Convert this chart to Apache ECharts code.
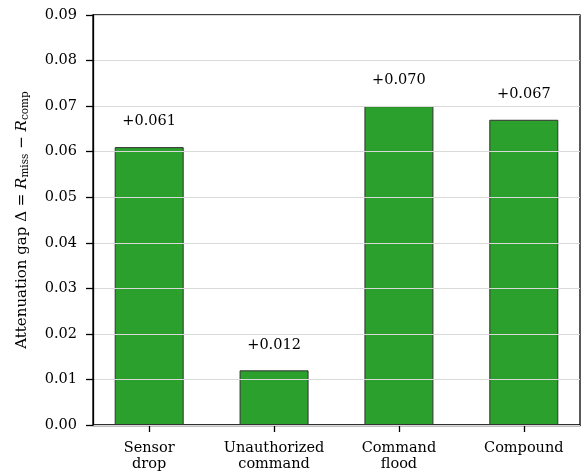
<!DOCTYPE html>
<html>
<head>
<meta charset="utf-8">
<script src="https://cdn.jsdelivr.net/npm/echarts@6/dist/echarts.min.js"></script>
<style>
  html, body { margin: 0; padding: 0; background: #fff; }
  #chart { width: 586px; height: 472px; }
</style>
</head>
<body>
<div id="chart"></div>
<script>
// attack scenarios and the attenuation gap for each
const categories = ['Sensor\ndrop', 'Unauthorized\ncommand', 'Command\nflood', 'Compound'];
const gapValues = [0.061, 0.012, 0.070, 0.067];
const yTicks = [0, 0.01, 0.02, 0.03, 0.04, 0.05, 0.06, 0.07, 0.08, 0.09];

const FONT = 'DejaVu Serif';
const chart = echarts.init(document.getElementById('chart'));

chart.setOption({
  animation: false,
  grid: {
    left: 93, right: 6, top: 15, bottom: 47,
    show: true, borderColor: '#000', borderWidth: 1.3, backgroundColor: 'transparent'
  },
  xAxis: {
    type: 'value',
    min: -0.45, max: 3.45,
    splitLine: { show: false },
    axisLine: { show: true, onZero: false, lineStyle: { color: '#000', width: 1.3 } },
    axisTick: { show: true, length: 7, customValues: [0, 1, 2, 3], lineStyle: { color: '#000', width: 1.3 } },
    axisLabel: {
      customValues: [0, 1, 2, 3],
      margin: 15,
      fontFamily: FONT, fontSize: 14.5, color: '#000', lineHeight: 16,
      formatter: v => categories[Math.round(v)]
    }
  },
  yAxis: {
    type: 'value',
    min: 0, max: 0.09, interval: 0.01,
    z: 5,
    name: 'Attenuation gap Δ = {i|R}{s|miss} − {i|R}{s|comp}',
    nameLocation: 'middle',
    nameGap: 62,
    nameTextStyle: {
      fontFamily: FONT, fontSize: 15, color: '#000', lineHeight: 18,
      rich: {
        i: { fontFamily: FONT, fontStyle: 'italic', fontSize: 15, color: '#000', lineHeight: 18 },
        s: { fontFamily: FONT, fontSize: 10.5, color: '#000', lineHeight: 8, verticalAlign: 'bottom' }
      }
    },
    axisLine: { show: true, onZero: false, lineStyle: { color: '#000', width: 1.3 } },
    axisTick: { show: true, length: 7, lineStyle: { color: '#000', width: 1.3 } },
    axisLabel: {
      margin: 16,
      fontFamily: FONT, fontSize: 14.5, color: '#000',
      customValues: yTicks,
      formatter: v => v.toFixed(2)
    },
    splitLine: { show: true, lineStyle: { color: '#d9d9d9', width: 1 } }
  },
  series: [{
    type: 'bar',
    data: gapValues.map((v, i) => [i, v]),
    barWidth: 69,
    itemStyle: { color: '#2ca02c', borderColor: '#333', borderWidth: 1 },
    label: {
      show: true, position: 'top', distance: 18,
      fontFamily: FONT, fontSize: 14.5, color: '#000',
      formatter: p => '+' + p.value[1].toFixed(3)
    }
  }]
});
</script>
</body>
</html>
